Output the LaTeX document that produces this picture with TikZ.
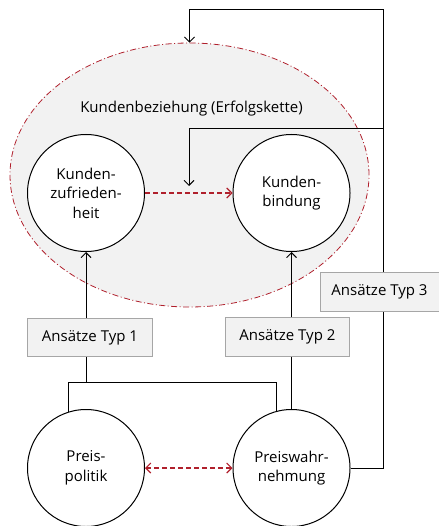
\documentclass[tikz,border=0pt]{standalone}
\usepackage{fontspec}
\setmainfont{Open Sans}
\usetikzlibrary{arrows.meta,shapes.geometric}
\definecolor{dunkelrot}{HTML}{B0202C}
\definecolor{hellgrau}{HTML}{F2F2F2}
\definecolor{rahmengrau}{HTML}{A6A6A6}
\tikzset{
	kreis/.style={circle,draw,line width=1pt,fill=white,minimum size=117pt,inner sep=0pt,align=center,font=\fontsize{15pt}{19.5pt}\selectfont},
	typbox/.style={rectangle,draw=rahmengrau,line width=0.9pt,fill=hellgrau,minimum height=38.5pt,inner sep=0pt,font=\fontsize{15pt}{18pt}\selectfont},
	linie/.style={line width=0.9pt},
	rotpfeil/.style={dunkelrot,line width=1.1pt,dash pattern=on 5pt off 3pt},
	>={Straight Barb[length=5pt,width=10pt]}
}
\begin{document}
\begin{tikzpicture}[x=1pt,y=-1pt]
				\useasboundingbox (0,0) rectangle (438,526);
				\node[ellipse,draw=dunkelrot,fill=hellgrau,line width=0.8pt,dash pattern=on 6pt off 2.5pt on 1pt off 2.5pt,minimum width=359pt,minimum height=264pt] (kbz) at (189.5,175) {};
				\node[font=\fontsize{15pt}{18pt}\selectfont] (kbztext) at (191.5,109) {Kundenbeziehung (Erfolgskette)};
				\node[kreis] (kz) at (86,193) {Kunden-\\zufrieden-\\heit};
				\node[kreis] (kb) at (291.5,193) {Kunden-\\bindung};
				\node[kreis] (pp) at (86,468) {Preis-\\politik};
				\node[kreis] (pw) at (291.5,468) {Preiswahr-\\nehmung};
				\coordinate (rt) at (383,9);
				\coordinate (mid) at (189,128);
				\coordinate (ziel) at (189,186);
				\coordinate (bar) at (0,382);
				\draw[linie,->] (pw.east) -- (pw.east -| rt) -- (rt) -- (kbz.north |- rt) -- (kbz.north);
				\draw[linie,->] (rt |- mid) -- (mid) -- (ziel);
				\node[typbox,minimum width=124.5pt] (t1) at (90,337.5) {Ansätze Typ 1};
				\node[typbox,minimum width=124.5pt] (t2) at (287.4,337) {Ansätze Typ 2};
				\node[typbox,minimum width=119pt] (t3) at (379.5,292) {Ansätze Typ 3};
				\draw[linie,->] (kz.south |- t1.north) -- (kz.south);
				\draw[linie] (kz.south |- t1.south) -- (kz.south |- bar);
				\draw[linie] (pp.107) -- (pp.107 |- bar) -- (pw.105 |- bar) -- (pw.105);
				\draw[linie,->] (kb.south |- t2.north) -- (kb.south);
				\draw[linie] (kb.south |- t2.south) -- (pw.north);
				\draw[rotpfeil,->] (kz.east) -- (kb.west);
				\draw[rotpfeil,<->] (pp.east) -- (pw.west);
			\end{tikzpicture}
\end{document}
